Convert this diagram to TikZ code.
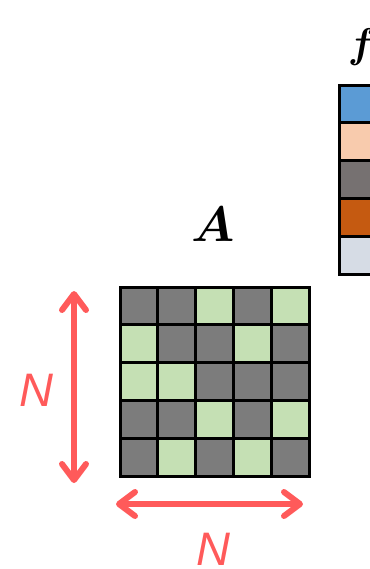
\documentclass[tikz,border=0pt]{standalone}
\usepackage{amsmath}
\usepackage{bm}
\usepackage{fontspec}
\newfontfamily\dimfont{Liberation Sans}
\usetikzlibrary{arrows.meta, positioning}
\definecolor{cGray}{RGB}{124,124,124}
\definecolor{cLeaf}{RGB}{197,224,180}
\definecolor{cRed}{RGB}{255,90,90}
\definecolor{cBlue}{RGB}{91,155,213}
\definecolor{cPeach}{RGB}{248,203,173}
\definecolor{cSlate}{RGB}{118,113,113}
\definecolor{cRust}{RGB}{197,90,17}
\definecolor{cMist}{RGB}{214,220,229}
\tikzset{
	cell/.style     ={draw=black, line width=1.5pt},
	dimarrow/.style ={{Straight Barb[length=8pt, width=12pt, round]}-{Straight Barb[length=8pt, width=12pt, round]}, draw=cRed, line width=3pt},
	dimlabel/.style ={text=cRed, inner sep=0pt, font=\dimfont\itshape\fontsize{23.5}{28}\selectfont},
	title/.style    ={inner sep=0pt, font=\fontsize{27}{30}\selectfont},
}

\begin{document}
\begin{tikzpicture}[x={(0.5pt,0)}, y={(0,-0.5pt)}]
	\useasboundingbox (0,0) rectangle (370,569);
	\clip (0,0) rectangle (370,569);
	% matrix A
	\foreach \r in {0,...,4}
		\foreach \c in {0,...,4}
			\draw[cell, fill=cGray] ({120+37.8*\c},{287+37.8*\r}) rectangle ++(37.8,37.8);
	\foreach \c/\r in {2/0,4/0,0/1,3/1,0/2,1/2,2/3,4/3,1/4,3/4}
		\draw[cell, fill=cLeaf] ({120+37.8*\c},{287+37.8*\r}) rectangle ++(37.8,37.8);
	\node[title, anchor=base] (lblA) at (213,241) {$\bm{A}$};
	% vector f
	\foreach \col [count=\k from 0] in {cBlue,cPeach,cSlate,cRust,cMist}
		\draw[cell, fill=\col] (339,{85+37.8*\k}) rectangle ++(37.8,37.8);
	\node[title, anchor=base, font=\fontsize{21}{24}\selectfont] (lblf) at (362,57) {$\bm{f}$};
	% size of A
	\coordinate (vtop) at (74,291);
	\coordinate (vbot) at (74,483);
	\coordinate (hleft) at (116,504);
	\coordinate (hright) at (303,504);
	\draw[dimarrow] (vtop) -- (vbot);
	\draw[dimarrow] (hleft) -- (hright);
	\node[dimlabel] (nleft) at (36,390) {N};
	\node[dimlabel] (nbot) at (213,549) {N};
\end{tikzpicture}
\end{document}
